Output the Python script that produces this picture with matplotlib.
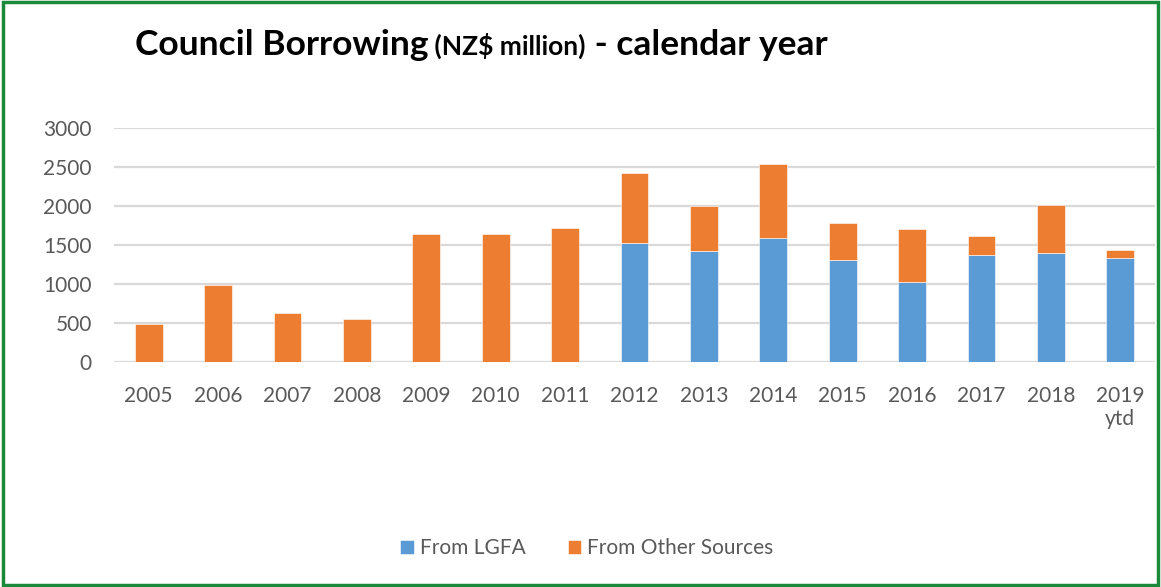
import matplotlib.pyplot as plt
import numpy as np
from matplotlib.patches import Rectangle

# Data (NZ$ million)
years = ['2005', '2006', '2007', '2008', '2009', '2010', '2011', '2012',
         '2013', '2014', '2015', '2016', '2017', '2018', '2019\nytd']
lgfa = [0, 0, 0, 0, 0, 0, 0, 1525, 1425, 1592, 1310, 1032, 1378, 1395, 1327]
total = [490, 986, 622, 554, 1639, 1639, 1720, 2428, 1997, 2543, 1784, 1707, 1621, 2014, 1442]
other = [t - l for t, l in zip(total, lgfa)]
yticks = [0, 500, 1000, 1500, 2000, 2500, 3000]

BLUE = '#5b9bd5'
ORANGE = '#ed7d31'
GREY = '#595959'

plt.rcParams['font.family'] = ['Lato', 'DejaVu Sans']

fig = plt.figure(figsize=(11.61, 5.87), dpi=100)
W, H = 1161, 587
ax = fig.add_axes([114 / W, 1 - 362 / H, (1155 - 114) / W, (362 - 128) / H])

x = np.arange(len(years))
ax.bar(x, lgfa, width=0.4, color=BLUE, label='From LGFA', edgecolor='white', linewidth=0.4)
ax.bar(x, other, width=0.4, bottom=lgfa, color=ORANGE, label='From Other Sources',
       edgecolor='white', linewidth=0.4)

ax.set_xlim(-0.5, len(years) - 0.5)
ax.set_ylim(0, 3000)
ax.set_yticks(yticks)
ax.set_xticks(x)
ax.set_xticklabels(years)
ax.yaxis.grid(True, color='#d9d9d9', linewidth=1.6)
ax.set_axisbelow(True)
for s in ax.spines.values():
    s.set_visible(False)
ax.tick_params(axis='both', length=0, labelsize=15, colors=GREY)
ax.tick_params(axis='x', pad=17)
ax.tick_params(axis='y', pad=16)

# title built from three pieces with different sizes
fig.canvas.draw()
renderer = fig.canvas.get_renderer()
parts = [('Council Borrowing', 25.5), (' (NZ$ million)', 19), (' - calendar year', 25.5)]
xpos = 135 / W
for txt, size in parts:
    t = fig.text(xpos, 1 - 55 / H, txt, fontsize=size, fontweight='bold',
                 color='black', ha='left', va='baseline')
    bb = t.get_window_extent(renderer)
    xpos += bb.width / W

fig.legend(loc='center', bbox_to_anchor=(587 / W, 1 - 548 / H), ncol=2, frameon=False,
           fontsize=15, handlelength=0.65, handleheight=0.65, handletextpad=0.3,
           columnspacing=2.0, labelcolor=GREY)

# green frame around the chart
fig.patches.append(Rectangle((0.003, 0.003), 0.994, 0.994, transform=fig.transFigure,
                             fill=False, edgecolor='#1a8a3a', linewidth=2.5))

fig.savefig('out.png', dpi=100)
